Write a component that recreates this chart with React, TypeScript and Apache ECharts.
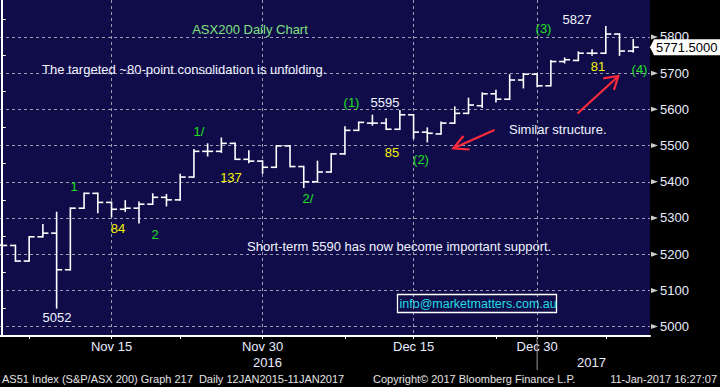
import React, { useEffect, useRef } from 'react';
import * as echarts from 'echarts';

// ---- data (ASX200 daily OHLC) ----
const dates = [
  'Nov 3','Nov 4','Nov 7','Nov 8','Nov 9','Nov 10','Nov 11','Nov 14','Nov 15','Nov 16',
  'Nov 17','Nov 18','Nov 21','Nov 22','Nov 23','Nov 24','Nov 25','Nov 28','Nov 29','Nov 30',
  'Dec 1','Dec 2','Dec 5','Dec 6','Dec 7','Dec 8','Dec 9','Dec 12','Dec 13','Dec 14',
  'Dec 15','Dec 16','Dec 19','Dec 20','Dec 21','Dec 22','Dec 23','Dec 28','Dec 29','Dec 30',
  'Jan 3','Jan 4','Jan 5','Jan 6','Jan 9','Jan 10','Jan 11'
];
const open = [5225,5224,5181,5248,5258,5157,5327,5368,5343,5324,5327,5338,5357,5350,5413,5484,5484,5506,5462,5457,5440,5499,5442,5400,5427,5477,5542,5562,5562,5545,5585,5537,5532,5562,5589,5610,5643,5628,5681,5697,5665,5732,5735,5755,5755,5808,5761];
const high = [5241,5224,5248,5281,5315,5327,5368,5368,5343,5347,5343,5366,5364,5420,5488,5504,5520,5506,5485,5457,5499,5499,5442,5456,5477,5551,5564,5583,5573,5596,5585,5548,5564,5606,5630,5645,5652,5695,5697,5697,5734,5741,5758,5764,5828,5808,5792];
const low = [5201,5181,5181,5248,5052,5157,5327,5315,5304,5319,5287,5338,5334,5350,5413,5472,5482,5462,5453,5424,5440,5442,5385,5400,5427,5477,5542,5557,5545,5545,5520,5511,5532,5562,5589,5606,5621,5628,5660,5663,5665,5729,5735,5750,5755,5750,5759];
const close = [5224,5181,5248,5258,5157,5327,5368,5343,5324,5327,5338,5357,5350,5413,5484,5484,5506,5462,5457,5440,5499,5442,5400,5427,5477,5542,5564,5562,5545,5585,5537,5534,5562,5589,5612,5643,5628,5681,5697,5665,5732,5737,5755,5755,5808,5761,5771.5];

const yTicks = [5000,5100,5200,5300,5400,5500,5600,5700,5800];
const yMinorTicks = [5050,5150,5250,5350,5450,5550,5650,5750,5850];
const xLabelDates = ['Nov 15','Nov 30','Dec 15','Dec 30'];
const xMinorTickDates = ['Nov 7','Nov 22','Dec 8','Dec 23','Jan 9'];
const yearLabels = ['2016','2017'];
const lastPrice = 5771.5;

const FONT = 'Liberation Sans, Arial, sans-serif';

export default function App() {
  const ref = useRef<HTMLDivElement>(null);
  useEffect(() => {
    const chart = echarts.init(ref.current!, null, { renderer: 'svg' });
    const idx = (d: string) => dates.indexOf(d);
    const ohlc = dates.map((_, i) => [i, open[i], high[i], low[i], close[i]]);
    const X_MIN = -0.124, X_MAX = 47.22, Y_MIN = 4974, Y_MAX = 5902;

    const axisCommonX = { type: 'value', min: X_MIN, max: X_MAX, position: 'bottom' };
    const axisCommonY = { type: 'value', min: Y_MIN, max: Y_MAX, position: 'right' };

    chart.setOption({
      animation: false,
      backgroundColor: '#000000',
      grid: { left: 0, top: 0, right: 70, bottom: 51, show: true, backgroundColor: '#100c4a', borderWidth: 0 },
      xAxis: [
        {
          ...axisCommonX,
          axisLine: { show: true, lineStyle: { color: '#ffffff', width: 2 } },
          axisTick: { show: true, length: 3, customValues: xLabelDates.map(idx), lineStyle: { color: '#ffffff' } },
          axisLabel: {
            show: true, customValues: xLabelDates.map(idx), color: '#e8eeff', fontSize: 13, fontFamily: FONT, margin: 4,
            formatter: (v: number) => dates[Math.round(v)] || '',
          },
          splitLine: { show: true, lineStyle: { color: '#9c9cb0', type: [3, 3], width: 1 } },
        },
        {
          ...axisCommonX,
          axisLine: { show: false },
          axisTick: { show: true, length: 3, customValues: xMinorTickDates.map(idx), lineStyle: { color: '#ffffff' } },
          axisLabel: { show: false },
          splitLine: { show: false },
        },
      ],
      yAxis: [
        {
          ...axisCommonY,
          axisLine: { show: true, lineStyle: { color: '#ffffff', width: 2 } },
          axisTick: { show: false, customValues: yTicks },
          axisLabel: {
            show: true, customValues: yTicks, color: '#e8eeff', fontSize: 13, fontFamily: FONT, margin: 10,
            formatter: (v: number) => String(Math.round(v)),
          },
          splitLine: { show: true, lineStyle: { color: '#9c9cb0', type: [3, 3], width: 1 } },
        },
        {
          ...axisCommonY,
          axisLine: { show: false },
          axisTick: { show: true, length: 4, customValues: yMinorTicks, lineStyle: { color: '#ffffff' } },
          axisLabel: { show: false },
          splitLine: { show: false },
        },
      ],
      series: [
        {
          type: 'custom',
          xAxisIndex: 0,
          yAxisIndex: 0,
          silent: true,
          data: ohlc,
          renderItem: (params: any, api: any) => {
            const x = api.value(0);
            const o = api.coord([x, api.value(1)]);
            const h = api.coord([x, api.value(2)]);
            const l = api.coord([x, api.value(3)]);
            const c = api.coord([x, api.value(4)]);
            const w = 5.5;
            const st = { stroke: '#ffffff', lineWidth: 1.6 };
            return {
              type: 'group',
              children: [
                { type: 'line', shape: { x1: h[0], y1: h[1] - 0.8, x2: l[0], y2: l[1] + 0.8 }, style: st },
                { type: 'line', shape: { x1: o[0] - w, y1: o[1], x2: o[0], y2: o[1] }, style: st },
                { type: 'line', shape: { x1: c[0], y1: c[1], x2: c[0] + w, y2: c[1] }, style: st },
              ],
            };
          },
        },
        {
          type: 'scatter',
          xAxisIndex: 0,
          yAxisIndex: 0,
          silent: true,
          clip: false,
          symbol: 'triangle',
          symbolSize: [5, 7],
          symbolRotate: -90,
          symbolOffset: [4.5, 0],
          itemStyle: { color: '#ffffff' },
          data: yTicks.map((v) => [X_MAX, v]),
        },
      ],
    });

    const px = (i: number) => chart.convertToPixel({ xAxisIndex: 0 }, i) as number;
    const py = (v: number) => chart.convertToPixel({ yAxisIndex: 0 }, v) as number;
    const sepX = px(idx('Dec 30'));
    const axisY = py(Y_MIN);
    const tagY = py(lastPrice);
    const rightX = px(X_MAX);

    const txt = (text: string, x: number, y: number, fill: string, size = 13, align = 'center') => ({
      type: 'text', z: 50, silent: true,
      style: { text, x, y, fill, font: `${size}px ${FONT}`, textAlign: align, textVerticalAlign: 'middle' },
    });
    const GREEN = '#1ee01e';
    const YELLOW = '#f4f400';
    const WHITE = '#f0f4ff';
    const RED = '#ff2a3a';

    chart.setOption({
      graphic: [
        // year separator and year labels
        { type: 'line', z: 50, silent: true, shape: { x1: sepX, y1: axisY, x2: sepX, y2: axisY + 34 }, style: { stroke: '#9a9a9a', lineWidth: 1 } },
        txt(yearLabels[0], 282, 362, '#e8eeff', 13, 'right'),
        txt(yearLabels[1], 606, 362, '#e8eeff', 13, 'right'),
        // footer
        txt('AS51 Index (S&P/ASX 200) Graph 217  Daily 12JAN2015-11JAN2017', 2, 379, '#e4e4e4', 11, 'left'),
        txt('Copyright\u00a9 2017 Bloomberg Finance L.P.', 373, 379, '#e4e4e4', 11, 'left'),
        txt('11-Jan-2017 16:27:07', 717, 379, '#e4e4e4', 11, 'right'),
        // titles and comments
        txt('ASX200 Daily Chart', 250, 29, '#80e080'),
        txt('The targeted ~80-point consolidation is unfolding.', 42, 69, WHITE, 13, 'left'),
        txt('Short-term 5590 has now become important support.', 247, 246, WHITE, 13, 'left'),
        txt('Similar structure.', 509, 129.5, WHITE, 13, 'left'),
        // wave labels
        txt('1', 74, 186, GREEN),
        txt('84', 118, 228, YELLOW),
        txt('2', 155, 234, GREEN),
        txt('5052', 57, 317.5, WHITE),
        txt('1/', 199, 131, GREEN),
        txt('137', 231, 177.5, YELLOW),
        txt('2/', 308, 198, GREEN),
        txt('(1)', 351.5, 102, GREEN),
        txt('5595', 385, 102, WHITE),
        txt('85', 392, 152.5, YELLOW),
        txt('(2)', 421, 159, GREEN),
        txt('(3)', 543.5, 28.5, GREEN),
        txt('5827', 577, 19.5, WHITE),
        txt('81', 598, 66, YELLOW),
        txt('(4)', 639.5, 69.5, GREEN),
        // red arrows
        { type: 'line', z: 40, silent: true, shape: { x1: 494.5, y1: 130, x2: 454, y2: 148 }, style: { stroke: RED, lineWidth: 2.2 } },
        { type: 'polyline', z: 40, silent: true, shape: { points: [[463.5, 136], [453.3, 148.3], [469.5, 149.5]] }, style: { stroke: RED, lineWidth: 2.2, fill: null } },
        { type: 'line', z: 40, silent: true, shape: { x1: 577.5, y1: 113.5, x2: 617.5, y2: 77 }, style: { stroke: RED, lineWidth: 2.2 } },
        { type: 'polyline', z: 40, silent: true, shape: { points: [[603.3, 78.3], [618.3, 76], [614, 90]] }, style: { stroke: RED, lineWidth: 2.2, fill: null } },
        // info box
        { type: 'rect', z: 40, silent: true, shape: { x: 397.5, y: 294.5, width: 159, height: 18 }, style: { stroke: '#ffffff', lineWidth: 1.3, fill: null } },
        txt('info@marketmatters.com.au', 399.5, 303.5, '#22dde2', 12.5, 'left'),
        // last price tag (covers the 5800 label, as in the original)
        {
          type: 'polygon', z: 60, silent: true,
          shape: { points: [[rightX, tagY], [rightX + 4, tagY - 8], [720, tagY - 8], [720, tagY + 8], [rightX + 4, tagY + 8]] },
          style: { fill: '#ffffff' },
        },
        { ...txt(lastPrice.toFixed(4), 717.5, tagY + 0.5, '#000000', 13, 'right'), z: 61 },
      ],
    });

    return () => chart.dispose();
  }, []);
  return <div ref={ref} style={{ position: 'fixed', left: 0, top: 0, width: 720, height: 387 }} />;
}
